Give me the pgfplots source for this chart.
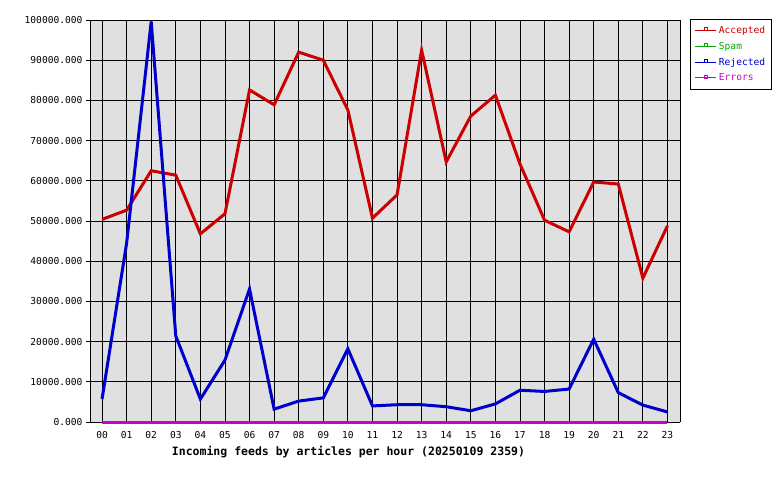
\documentclass[border=0pt]{standalone}
\usepackage{fontspec}
\setmainfont{DejaVu Sans Mono}
\usepackage{pgfplots}
\usepackage{pgfplotstable}
\pgfplotsset{compat=1.18}
\definecolor{accc}{RGB}{204,0,0}
\definecolor{spamc}{RGB}{0,170,0}
\definecolor{rejc}{RGB}{0,0,204}
\definecolor{errc}{RGB}{204,0,204}
\definecolor{bgc}{RGB}{224,224,224}

\pgfplotstableread{
h acc rej spam err
0 50400 5700 0 0
1 52700 44500 0 0
2 62500 99600 0 0
3 61400 21400 0 0
4 46800 5700 0 0
5 51800 15400 0 0
6 82600 33100 0 0
7 78900 3200 0 0
8 92000 5200 0 0
9 90000 6000 0 0
10 77600 18200 0 0
11 50700 4000 0 0
12 56500 4300 0 0
13 92500 4300 0 0
14 64700 3800 0 0
15 76100 2800 0 0
16 81300 4500 0 0
17 64200 7900 0 0
18 50200 7600 0 0
19 47300 8200 0 0
20 59700 20600 0 0
21 59200 7300 0 0
22 35800 4200 0 0
23 48800 2500 0 0
}\feeds

\begin{document}
\begin{tikzpicture}[x=1pt,y=1pt]
\begin{axis}[
  at={(90pt,58pt)}, anchor=south west,
  scale only axis, width=590pt, height=402pt,
  xmin=-0.49, xmax=23.51, ymin=0, ymax=100000,
  axis background/.style={fill=bgc},
  xtick={0,...,23},
  xticklabels={00,01,02,03,04,05,06,07,08,09,10,11,12,13,14,15,16,17,18,19,20,21,22,23},
  ytick={0,10000,...,100000},
  grid=major, grid style={black, line width=0.9pt},
  separate axis lines,
  axis line style={black, line width=0.9pt},
  x axis line style={draw=none},
  tick style={black, line width=0.9pt},
  ytick pos=left, xtick pos=bottom,
  tick align=outside, major tick length=4pt,
  xtick style={draw=none},
  scaled y ticks=false,
  yticklabel style={/pgf/number format/.cd, fixed, fixed zerofill, precision=3, 1000 sep={}, assume math mode=true},
  xticklabel style={yshift=-2pt},
  tick label style={font=\fontsize{9.6}{11}\selectfont},
  clip=false,
  legend style={at={(1.0169,1.0025)}, anchor=north west, fill=white, line width=0.9pt,
    font=\fontsize{9.6}{11}\selectfont, row sep=3pt, inner xsep=4.5pt, inner ysep=5pt},
  legend cell align=left,
  legend image code/.code={
    \draw[#1, line width=1pt] (0pt,0pt) -- (21pt,0pt);
    \draw[#1, line width=0.8pt, fill=none] (8.5pt,0pt) rectangle (12pt,3pt);
  },
]
\addplot[accc, line width=3pt] table[x=h, y=acc] {\feeds};
\addlegendentry{\textcolor{accc}{Accepted}}
\addplot[spamc, line width=3pt] table[x=h, y=spam] {\feeds};
\addlegendentry{\textcolor{spamc}{Spam}}
\addplot[rejc, line width=3pt] table[x=h, y=rej] {\feeds};
\addlegendentry{\textcolor{rejc}{Rejected}}
\addplot[errc, line width=3pt] table[x=h, y=err] {\feeds};
\addlegendentry{\textcolor{errc}{Errors}}
\end{axis}
\node[font=\bfseries\fontsize{11.5}{13}\selectfont] at (348.5,28) {Incoming feeds by articles per hour (20250109 2359)};
\path (0,0) rectangle (780,480);
\end{tikzpicture}
\end{document}
